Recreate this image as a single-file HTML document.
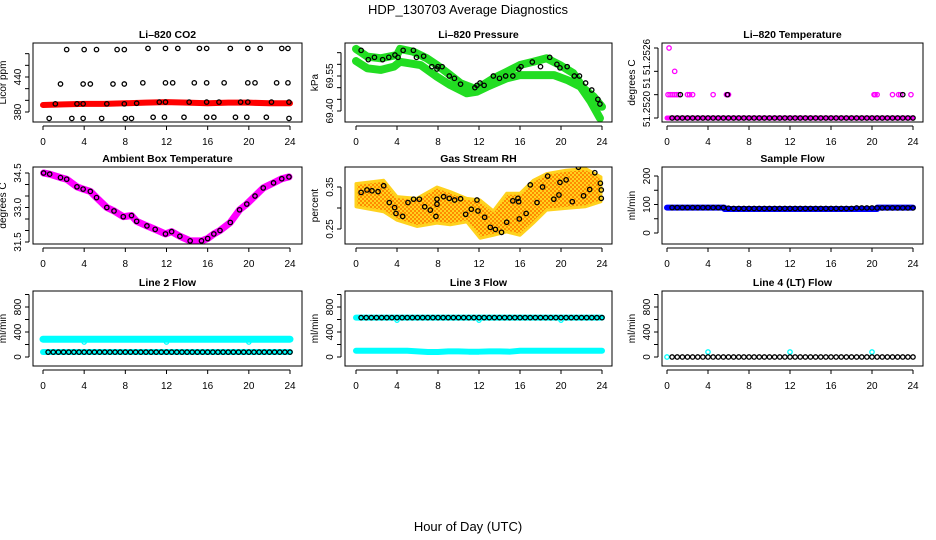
<!DOCTYPE html>
<html><head><meta charset="utf-8"><style>
html,body{margin:0;padding:0;background:#fff}
svg{display:block;font-family:"Liberation Sans",sans-serif}
</style></head><body>
<svg id="c" width="936" height="540" viewBox="0 0 936 540">
<text x="468" y="14" text-anchor="middle" font-size="13">HDP_130703  Average Diagnostics</text>
<text x="468" y="531" text-anchor="middle" font-size="13">Hour of Day (UTC)</text>
</svg>
<script>
const hours=[0,4,8,12,16,20,24];
// CO2
const co2BandH=[0,2,4,6,8,10,12,14,16,18,20,22,24];
const co2BandV=[392,393,394,394,395,396,397,396,395,396,396,395,395];
const co2H=[2.3,4.0,5.2,7.2,7.9,10.2,11.9,13.1,15.2,15.9,18.2,19.9,21.1,23.2,23.8,1.7,3.9,4.6,6.8,7.9,9.7,11.9,12.6,14.7,15.9,17.6,19.9,20.6,22.7,23.8,1.2,3.3,3.9,6.2,7.9,9.1,11.3,11.9,14.2,15.9,17.1,19.2,19.9,22.2,23.9,0.6,2.8,3.9,5.7,8.0,8.6,10.7,11.8,13.7,15.9,16.6,18.7,19.8,21.7,23.9];
const co2V=[487,487,487,487,487,489,489,489,489,489,489,489,489,489,489,428,428,428,428,428,430,430,430,430,430,430,430,430,430,430,394,394,394,394,394,395,397,397,397,397,397,397,397,397,397,369,369,369,369,369,369,371,371,371,371,371,371,371,371,369];
// Pressure
const pUpH=[0,1.1,2.4,4.0,4.3,5.6,6.9,7.9,9.2,10.2,11.5,12.1,13.4,14.7,16.0,17.3,18.6,19.9,21.2,22.2,23.2,24];
const pUpV=[69.666,69.633,69.626,69.64,69.666,69.654,69.626,69.597,69.554,69.519,69.497,69.504,69.54,69.568,69.597,69.611,69.626,69.597,69.562,69.497,69.461,69.418];
const pLoH=[0,1.1,2.4,3.7,4.3,6.3,7.9,9.2,10.8,11.8,12.8,14.7,16.0,18.0,19.3,20.6,21.9,22.9,23.8];
const pLoV=[69.614,69.583,69.576,69.59,69.611,69.597,69.547,69.511,69.476,69.483,69.504,69.54,69.554,69.554,69.554,69.533,69.504,69.44,69.369];
const pCH=[0.5,1.2,1.8,2.6,3.2,3.8,4.1,4.6,5.6,5.9,6.6,7.4,7.9,8.0,8.4,9.1,9.6,10.2,11.6,11.8,12.1,12.5,13.4,14.0,14.6,15.3,15.9,16.1,17.2,18.0,18.9,19.6,19.9,20.6,21.3,21.8,22.4,23.0,23.6,23.8];
const pCV=[69.66,69.62,69.63,69.62,69.63,69.64,69.63,69.66,69.66,69.63,69.635,69.59,69.58,69.59,69.59,69.55,69.54,69.515,69.50,69.51,69.52,69.51,69.55,69.54,69.55,69.55,69.58,69.59,69.61,69.59,69.63,69.60,69.585,69.59,69.55,69.55,69.52,69.49,69.45,69.43];
// Li-820 temperature (level index 0..3)
const tBandH=[0,24];
const tBandV=[0,0];
const tMH=[0.1,0.3,0.5,0.7,0.9,1.1,2.0,2.2,2.5,4.5,5.8,6.0,20.2,20.3,20.5,22.0,22.6,22.8,23.8,0.75,0.2];
const tMV=[1,1,1,1,1,1,1,1,1,1,1,1,1,1,1,1,1,1,1,2,3];
const tBH=[1.3,5.9,23.0];
const tBV=[1,1,1];
// Ambient
const ambH=[0.06,0.65,1.7,2.3,3.3,3.9,4.6,5.2,6.2,6.9,7.8,8.6,9.1,10.1,10.9,11.9,12.5,13.3,14.3,15.4,16.0,16.6,17.2,18.2,19.1,19.8,20.6,21.4,22.4,23.2,23.9];
const ambV=[34.5,34.45,34.3,34.23,33.9,33.8,33.7,33.43,33.0,32.85,32.6,32.65,32.4,32.2,32.05,31.85,31.95,31.75,31.55,31.55,31.65,31.85,32.0,32.35,32.9,33.15,33.5,33.85,34.07,34.25,34.33];
// RH
const rhCH=[0.5,1.07,1.56,2.15,2.7,3.25,3.77,3.9,4.55,5.07,5.62,6.18,6.7,7.25,7.8,7.9,7.9,8.55,9.1,9.62,10.2,10.7,11.25,11.8,11.9,12.55,13.1,13.6,14.2,14.7,15.3,15.8,15.87,15.93,16.6,17.0,17.66,18.2,18.7,19.3,19.8,19.9,20.5,21.1,21.7,22.2,22.8,23.3,23.84,23.93,23.93];
const rhCV=[0.337,0.343,0.341,0.339,0.353,0.313,0.301,0.287,0.280,0.313,0.321,0.321,0.303,0.295,0.280,0.309,0.321,0.327,0.323,0.319,0.322,0.285,0.297,0.319,0.293,0.278,0.254,0.249,0.242,0.266,0.317,0.323,0.315,0.274,0.287,0.355,0.313,0.350,0.376,0.321,0.331,0.361,0.367,0.315,0.397,0.329,0.344,0.384,0.359,0.343,0.323];
const rhBandH=[0,2.7,4.0,5.95,7.9,9.2,10.8,12.1,13.4,14.7,16.0,17.3,18.6,20.5,22.4,23.9];
const rhBandHi=[0.358,0.366,0.327,0.323,0.350,0.339,0.323,0.319,0.293,0.335,0.335,0.366,0.382,0.390,0.394,0.374];
const rhBandLo=[0.303,0.291,0.271,0.256,0.264,0.260,0.267,0.228,0.235,0.243,0.235,0.264,0.295,0.299,0.303,0.315];
// Flows
const sfBandH=[0,5.6,5.6,10,10,20.5,20.5,24];
const sfBandV=[89,89,84,84,84,84,89,89];
const flowCH=[0.5,1,1.5,2,2.5,3,3.5,4,4.5,5,5.5,6,6.5,7,7.5,8,8.5,9,9.5,10,10.5,11,11.5,12,12.5,13,13.5,14,14.5,15,15.5,16,16.5,17,17.5,18,18.5,19,19.5,20,20.5,21,21.5,22,22.5,23,23.5,24];
const sfCV=[89,89,89,89,89,89,89,89,89,89,89,87,86,86,86,86,86,86,86,86,86,86,86,86,86,86,86,86,86,86,86,86,86,86,86,86,88,88,88,88,88,88,88,88,88,88,88,88];
const l2CyanHiV=[285,285,285,285,285,285,285,285,285,285,285,285,285,285,285,285,285,285,285,285,285,285,285,285];
const l2CyanLoV=[80,80,80,80,80,80,80,80,80,80,80,80,80,80,80,80,80,80,80,80,80,80,80,80];
const cyanBandH=[0,1,2,3,4,5,6,7,8,9,10,11,12,13,14,15,16,17,18,19,20,21,22,23];
const l2Dips=[4,12,20];
const l2DipV=[240,240,240];
const l2BlackV=78;
const l3CyanHiV=[630,630,630,630,630,630,630,630,630,630,630,630,630,630,630,630,630,630,630,630,630,630,630,630];
const l3CyanLoV=[100,100,100,100,100,100,90,80,80,90,90,85,85,90,90,85,100,100,100,100,100,100,100,100];
const l3Dips=[4,12,20];
const l3DipV=[590,590,590];
const l3BlackV=630;
const l4Spikes=[4,12,20];
const l4SpikeV=[80,80,80];
const l4BlackV=0;

const svg=document.getElementById('c');
const NS='http://www.w3.org/2000/svg';
function mk(tag,attrs,parent){const e=document.createElementNS(NS,tag);for(const k in attrs)e.setAttribute(k,attrs[k]);(parent||svg).appendChild(e);return e;}

function panel(o){
  const g=mk('g',{});
  
  
  const X=h=>o.x0+h*(o.x24-o.x0)/24;
  const Y=v=>o.ya+(v-o.va)*(o.yb-o.ya)/(o.vb-o.va);
  const clip='clip-'+o.name;
  const cp=mk('clipPath',{id:clip},g);mk('rect',{x:o.L,y:o.T,width:o.R-o.L,height:o.B-o.T},cp);
  const plot=mk('g',{'clip-path':'url(#'+clip+')'},g);
  
  
  mk('rect',{x:o.L,y:o.T,width:o.R-o.L,height:o.B-o.T,fill:'none',stroke:'#000','stroke-width':1},g);
  const t=mk('text',{x:(o.L+o.R)/2,y:o.T-5,'text-anchor':'middle','font-size':10.5,'font-weight':'bold'},g);
  t.textContent=o.title;
  
  
  const ay=o.B+4;
  mk('line',{x1:X(0),x2:X(24),y1:ay,y2:ay,stroke:'#000'},g);
  hours.forEach(h=>{mk('line',{x1:X(h),x2:X(h),y1:ay,y2:ay+4,stroke:'#000'},g);
    const tl=mk('text',{x:X(h),y:o.B+23,'text-anchor':'middle','font-size':10},g);tl.textContent=h;
    
    });
  const ax=o.L-4;
  mk('line',{x1:ax,x2:ax,y1:Y(o.yt[0]),y2:Y(o.yt[o.yt.length-1]),stroke:'#000'},g);
  o.yt.forEach(v=>mk('line',{x1:ax-4,x2:ax,y1:Y(v),y2:Y(v),stroke:'#000'},g));
  o.yl.forEach((s,i)=>{const yy=o.ylPos?o.ylPos[i]:Y(parseFloat(s));
    const tl=mk('text',{x:o.L-12,y:yy,'text-anchor':'middle','font-size':10,transform:'rotate(-90 '+(o.L-12)+' '+yy+')'},g);tl.textContent=s;
    
    });
  const yc=(o.T+o.B)/2;
  const yt=mk('text',{x:o.L-27,y:yc,'text-anchor':'middle','font-size':10,transform:'rotate(-90 '+(o.L-27)+' '+yc+')'},g);
  yt.textContent=o.ytitle;
  
  
  return {X,Y,plot};
}
function band(p,H,V,col,w,name){
  const pl=mk('polyline',{points:H.map((h,i)=>p.X(h)+','+p.Y(V[i])).join(' '),fill:'none',stroke:col,'stroke-width':w,'stroke-linejoin':'round','stroke-linecap':'round'},p.plot);
  
  
}
function circles(p,H,V,col,name){
  H.forEach((h,i)=>{const c=mk('circle',{cx:p.X(h),cy:p.Y(V[i]),r:2.2,fill:'none',stroke:col,'stroke-width':1.3},p.plot);
    
    });
}
const C1={L:33,R:302,x0:43,x24:290},C2={L:345,R:612,x0:356,x24:602},C3={L:662,R:923,x0:667,x24:913};
const R1={T:43,B:122},R2={T:167,B:244},R3={T:291,B:366};

let p=panel({...C1,...R1,name:'co2',title:'Li\u2013820 CO2',ytitle:'Licor ppm',ya:112,va:380,yb:77,vb:440,yt:[380,400,420,440,460,480],yl:['380','440']});
band(p,co2BandH,co2BandV,'#ff0000',6,'co2-band');
circles(p,co2H,co2V,'#000','co2-point');
p=panel({...C2,...R1,name:'pressure',title:'Li\u2013820 Pressure',ytitle:'kPa',ya:111,va:69.40,yb:76,vb:69.55,yt:[69.40,69.45,69.50,69.55,69.60,69.65],yl:['69.40','69.55']});
band(p,pUpH,pUpV,'#22dd22',8,'pressure-band-upper');
band(p,pLoH,pLoV,'#22dd22',8,'pressure-band-lower');
circles(p,pCH,pCV,'#000','pressure-point');
p=panel({...C3,...R1,name:'li820-temp',title:'Li\u2013820 Temperature',ytitle:'degrees C',ya:118,va:0,yb:48,vb:3,yt:[0,1,2,3],yl:['51.2520','51','51.2526'],ylPos:[109,83,57]});
band(p,tBandH,tBandV,'#ff00ff',5,'li820-temp-band');
circles(p,flowCH,flowCH.map(()=>0),'#000','li820-temp-point');
circles(p,tMH,tMV,'#ff00ff','li820-temp-magenta-point');
circles(p,tBH,tBV,'#000','li820-temp-point');
p=panel({...C1,...R2,name:'ambient-temp',title:'Ambient Box Temperature',ytitle:'degrees C',ya:173,va:34.5,yb:242,vb:31.5,yt:[34.5,34,33.5,33,32.5,32,31.5],yl:['34.5','33.0','31.5']});
band(p,ambH,ambV,'#ff00ff',7,'ambient-band');
circles(p,ambH,ambV,'#000','ambient-point');
p=panel({...C2,...R2,name:'rh',title:'Gas Stream RH',ytitle:'percent',ya:187,va:0.35,yb:229,vb:0.25,yt:[0.25,0.30,0.35],yl:['0.25','0.35']});
(function(){
  const defs=mk('defs',{});
  const pat=mk('pattern',{id:'rhpat',width:4,height:4,patternUnits:'userSpaceOnUse'},defs);
  mk('rect',{x:0,y:0,width:4,height:4,fill:'#ffd21e'},pat);
  mk('rect',{x:0,y:0,width:2,height:2,fill:'#ff8c00'},pat);
  mk('rect',{x:2,y:2,width:2,height:2,fill:'#ff8c00'},pat);
  const pts=rhBandH.map((h,i)=>p.X(h)+','+p.Y(rhBandHi[i])).concat(rhBandH.slice().reverse().map((h,j)=>p.X(h)+','+p.Y(rhBandLo[rhBandH.length-1-j])));
  const pg=mk('polygon',{points:pts.join(' '),fill:'url(#rhpat)',stroke:'#ffd21e','stroke-width':3,'stroke-linejoin':'round'},p.plot);
  
  
})();
circles(p,rhCH,rhCV,'#000','rh-point');
p=panel({...C3,...R2,name:'sample-flow',title:'Sample Flow',ytitle:'ml/min',ya:233,va:0,yb:176,vb:200,yt:[0,50,100,150,200],yl:['0','100','200']});
band(p,sfBandH,sfBandV,'#0000ff',6,'sample-flow-band');
circles(p,flowCH,sfCV,'#000','sample-flow-point');
const flowAxis={ya:357,va:0,yb:307,vb:800,yt:[0,200,400,600,800,1000],yl:['0','400','800'],ytitle:'ml/min'};
p=panel({...C1,...R3,...flowAxis,name:'line2-flow',title:'Line 2 Flow'});
band(p,cyanBandH.concat([24]),l2CyanHiV.concat([285]),'#00ffff',7,'line2-cyan-high');
band(p,cyanBandH.concat([24]),l2CyanLoV.concat([80]),'#00ffff',6,'line2-cyan-low');
circles(p,l2Dips,l2DipV,'#00ffff','line2-cyan-dip');
circles(p,flowCH,flowCH.map(()=>l2BlackV),'#000','line2-point');
p=panel({...C2,...R3,...flowAxis,name:'line3-flow',title:'Line 3 Flow'});
band(p,cyanBandH.concat([24]),l3CyanHiV.concat([630]),'#00ffff',6,'line3-cyan-high');
band(p,cyanBandH.concat([24]),l3CyanLoV.concat([100]),'#00ffff',6,'line3-cyan-low');
circles(p,l3Dips,l3DipV,'#00ffff','line3-cyan-dip');
circles(p,flowCH,flowCH.map(()=>l3BlackV),'#000','line3-point');
p=panel({...C3,...R3,...flowAxis,name:'line4-flow',title:'Line 4 (LT) Flow'});
circles(p,[0],[0],'#00ffff','line4-cyan-point');
circles(p,l4Spikes,l4SpikeV,'#00ffff','line4-cyan-spike');
circles(p,flowCH,flowCH.map(()=>l4BlackV),'#000','line4-point');
</script>
</body></html>
